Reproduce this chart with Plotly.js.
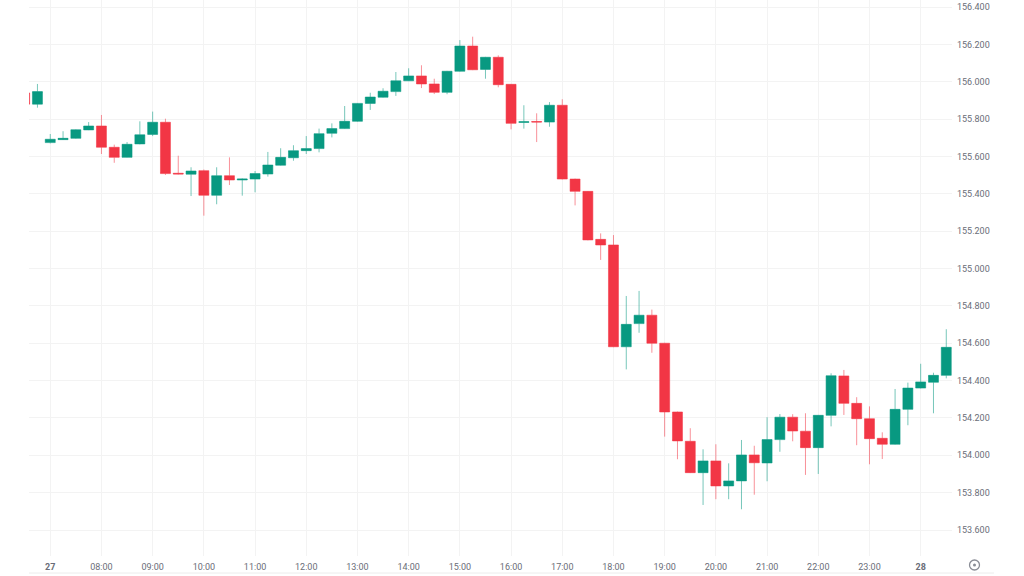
<!DOCTYPE html>
<html>
<head>
<meta charset="utf-8">
<script src="https://cdn.plot.ly/plotly-3.0.1.min.js"></script>
<style>
  html, body { margin: 0; padding: 0; background: #ffffff; }
  #chart { width: 1024px; height: 576px; }
</style>
</head>
<body>
<div id="chart"></div>
<script>
// 15-minute candles, 27th 06:30 -> 28th 00:30
const times = [
  "2024-12-27 06:30","2024-12-27 06:45",
  "2024-12-27 07:00","2024-12-27 07:15","2024-12-27 07:30","2024-12-27 07:45",
  "2024-12-27 08:00","2024-12-27 08:15","2024-12-27 08:30","2024-12-27 08:45",
  "2024-12-27 09:00","2024-12-27 09:15","2024-12-27 09:30","2024-12-27 09:45",
  "2024-12-27 10:00","2024-12-27 10:15","2024-12-27 10:30","2024-12-27 10:45",
  "2024-12-27 11:00","2024-12-27 11:15","2024-12-27 11:30","2024-12-27 11:45",
  "2024-12-27 12:00","2024-12-27 12:15","2024-12-27 12:30","2024-12-27 12:45",
  "2024-12-27 13:00","2024-12-27 13:15","2024-12-27 13:30","2024-12-27 13:45",
  "2024-12-27 14:00","2024-12-27 14:15","2024-12-27 14:30","2024-12-27 14:45",
  "2024-12-27 15:00","2024-12-27 15:15","2024-12-27 15:30","2024-12-27 15:45",
  "2024-12-27 16:00","2024-12-27 16:15","2024-12-27 16:30","2024-12-27 16:45",
  "2024-12-27 17:00","2024-12-27 17:15","2024-12-27 17:30","2024-12-27 17:45",
  "2024-12-27 18:00","2024-12-27 18:15","2024-12-27 18:30","2024-12-27 18:45",
  "2024-12-27 19:00","2024-12-27 19:15","2024-12-27 19:30","2024-12-27 19:45",
  "2024-12-27 20:00","2024-12-27 20:15","2024-12-27 20:30","2024-12-27 20:45",
  "2024-12-27 21:00","2024-12-27 21:15","2024-12-27 21:30","2024-12-27 21:45",
  "2024-12-27 22:00","2024-12-27 22:15","2024-12-27 22:30","2024-12-27 22:45",
  "2024-12-27 23:00","2024-12-27 23:15","2024-12-27 23:30","2024-12-27 23:45",
  "2024-12-28 00:00","2024-12-28 00:15","2024-12-28 00:30"
];

const open = [
  155.940,155.880,
  155.674,155.690,155.697,155.742,155.763,155.649,155.595,155.667,
  155.718,155.783,155.510,155.505,155.524,155.392,155.497,155.474,
  155.479,155.506,155.553,155.593,155.631,155.642,155.724,155.749,
  155.788,155.884,155.917,155.947,156.005,156.031,155.988,155.943,
  156.056,156.191,156.066,156.131,155.986,155.782,155.787,155.784,
  155.874,155.479,155.413,155.156,155.126,154.581,154.705,154.750,
  154.600,154.232,154.075,153.907,153.970,153.836,153.863,154.002,
  153.959,154.084,154.204,154.129,154.041,154.214,154.425,154.278,
  154.196,154.091,154.059,154.246,154.360,154.391,154.428
];
const high = [
  155.950,155.988,
  155.720,155.735,155.745,155.784,155.822,155.663,155.677,155.788,
  155.840,155.802,155.604,155.542,155.530,155.542,155.595,155.482,
  155.522,155.624,155.644,155.660,155.709,155.749,155.777,155.870,
  155.886,155.941,155.965,156.052,156.072,156.088,156.016,156.058,
  156.223,156.241,156.133,156.141,155.988,155.874,155.831,155.891,
  155.906,155.481,155.415,155.188,155.179,154.853,154.880,154.780,
  154.602,154.234,154.145,154.032,154.059,153.957,154.082,154.051,
  154.204,154.221,154.220,154.225,154.216,154.439,154.457,154.311,
  154.262,154.123,154.355,154.389,154.490,154.442,154.675
];
const low = [
  155.870,155.861,
  155.670,155.688,155.695,155.741,155.613,155.566,155.594,155.665,
  155.709,155.501,155.504,155.388,155.283,155.344,155.447,155.390,
  155.408,155.492,155.551,155.577,155.613,155.622,155.702,155.747,
  155.786,155.849,155.915,155.924,156.003,155.966,155.934,155.933,
  156.054,156.062,156.016,155.970,155.745,155.749,155.677,155.759,
  155.477,155.338,155.151,155.046,154.579,154.460,154.656,154.549,
  154.100,153.979,153.905,153.734,153.765,153.765,153.711,153.789,
  153.861,154.019,154.075,153.895,153.900,154.155,154.216,154.054,
  153.952,153.980,154.057,154.161,154.358,154.225,154.412
];
const close = [
  155.880,155.947,
  155.692,155.697,155.743,155.763,155.649,155.595,155.665,155.716,
  155.783,155.508,155.506,155.522,155.392,155.497,155.474,155.479,
  155.508,155.554,155.595,155.631,155.642,155.722,155.749,155.788,
  155.884,155.918,155.949,156.005,156.031,155.988,155.943,156.056,
  156.191,156.064,156.131,155.984,155.777,155.786,155.784,155.874,
  155.479,155.413,155.153,155.126,154.581,154.701,154.750,154.600,
  154.232,154.077,153.907,153.970,153.836,153.863,154.002,153.960,
  154.084,154.204,154.130,154.041,154.214,154.426,154.278,154.196,
  154.089,154.059,154.246,154.360,154.393,154.428,154.578
];

// x-axis labels
const tickTimes = [
  "2024-12-27 07:00","2024-12-27 08:00","2024-12-27 09:00","2024-12-27 10:00",
  "2024-12-27 11:00","2024-12-27 12:00","2024-12-27 13:00","2024-12-27 14:00",
  "2024-12-27 15:00","2024-12-27 16:00","2024-12-27 17:00","2024-12-27 18:00",
  "2024-12-27 19:00","2024-12-27 20:00","2024-12-27 21:00","2024-12-27 22:00",
  "2024-12-27 23:00","2024-12-28 00:00"
];
const tickLabels = [
  "<b>27</b>","08:00","09:00","10:00","11:00","12:00","13:00","14:00",
  "15:00","16:00","17:00","18:00","19:00","20:00","21:00","22:00","23:00","<b>28</b>"
];
const priceTicks = [153.6,153.8,154.0,154.2,154.4,154.6,154.8,155.0,155.2,155.4,155.6,155.8,156.0,156.2,156.4];

const UP = "#089981", DOWN = "#f23645";

const trace = {
  type: "candlestick",
  x: times, open: open, high: high, low: low, close: close,
  increasing: { fillcolor: UP, line: { color: "rgba(8,153,129,0.55)", width: 1 } },
  decreasing: { fillcolor: DOWN, line: { color: "rgba(242,54,69,0.55)", width: 1 } },
  whiskerwidth: 0,
  hoverinfo: "skip",
  showlegend: false
};

const layout = {
  width: 1024, height: 576,
  margin: { l: 29, r: 72, t: 0, b: 20, pad: 0 },
  paper_bgcolor: "#ffffff",
  plot_bgcolor: "#ffffff",
  font: { family: "Roboto, 'Noto Sans', sans-serif", size: 9, color: "#6a6d78" },
  boxgap: 0.22,
  boxgroupgap: 0,
  xaxis: {
    type: "date",
    range: ["2024-12-27 06:35:06", "2024-12-28 00:36:42"],
    rangeslider: { visible: false },
    tickmode: "array",
    tickvals: tickTimes,
    ticktext: tickLabels,
    showgrid: true,
    gridcolor: "#f3f3f3",
    gridwidth: 1,
    zeroline: false,
    showline: false,
    ticks: "",
    ticklabelstandoff: 4,
    tickfont: { size: 9, color: "#6a6d78" },
    fixedrange: true
  },
  yaxis: {
    side: "right",
    range: [153.4609, 156.4375],
    tickmode: "array",
    tickvals: priceTicks,
    tickformat: ".3f",
    showgrid: true,
    gridcolor: "#f3f3f3",
    gridwidth: 1,
    zeroline: false,
    showline: false,
    ticks: "",
    ticklabelstandoff: 4,
    tickfont: { size: 9, color: "#6a6d78" },
    fixedrange: true
  },
  shapes: [
    { type: "line", xref: "paper", yref: "paper",
      x0: 0, x1: 1.0455, y0: -0.0306, y1: -0.0306,
      line: { color: "#ececec", width: 1 } },
    { type: "circle", xref: "paper", yref: "paper",
      x0: (969.5 - 29) / 923, x1: (979.5 - 29) / 923,
      y0: (556 - 570) / 556, y1: (556 - 560) / 556,
      line: { color: "#8a8d96", width: 1.3 } },
    { type: "circle", xref: "paper", yref: "paper", fillcolor: "#8a8d96",
      x0: (973 - 29) / 923, x1: (976 - 29) / 923,
      y0: (556 - 566.5) / 556, y1: (556 - 563.5) / 556,
      line: { color: "#8a8d96", width: 0 } }
  ]
};

Plotly.newPlot("chart", [trace], layout, { displayModeBar: false, staticPlot: true });
</script>
</body>
</html>
